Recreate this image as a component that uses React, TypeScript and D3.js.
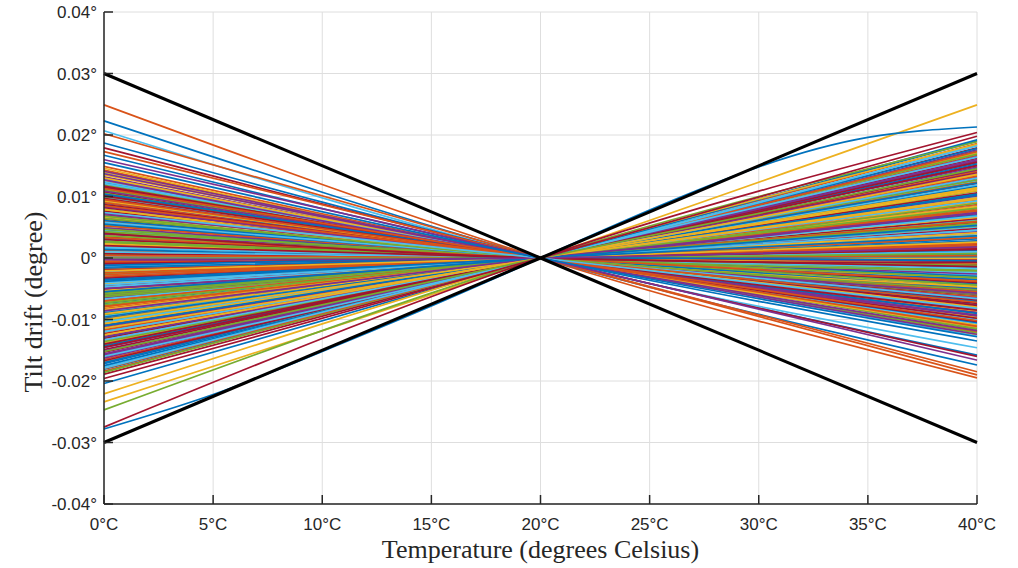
import React from "react"
import * as d3 from "d3"

const W = 1018
const H = 568
const margin = { left: 104, right: 41, top: 12, bottom: 64 }

// MATLAB default colour order
const colorOrder = ["#0072BD", "#D95319", "#EDB120", "#7E2F8E", "#77AC30", "#4DBEEE", "#A2142F"]

const xTicks = [0, 5, 10, 15, 20, 25, 30, 35, 40]
const yTicks = [-0.04, -0.03, -0.02, -0.01, 0, 0.01, 0.02, 0.03, 0.04]
const yTickLabels = ["-0.04°", "-0.03°", "-0.02°", "-0.01°", "0°", "0.01°", "0.02°", "0.03°", "0.04°"]

// tilt drift of each unit (millidegrees) at 0°C and at 40°C, all zero at 20°C
const driftAt0 = [
  3.2, -7.8, 11.4, -14.6, 0.6, -2.9, 8.3, -17.2, 5.7, -10.1,
  13.2, -5.4, 1.8, -12.3, 9.6, -0.8, 6.9, -15.9, 4.1, -8.7,
  12.0, -3.6, -18.4, 7.5, -6.2, 2.5, -11.5, 10.7, -1.7, 14.3,
  -13.8, 0.1, -9.3, 5.0, -4.5, 8.9, -16.5, 3.7, -7.1, 11.9,
  -2.2, 6.3, -12.9, 1.2, -10.6, 9.2, -5.9, 13.8, -18.9, 4.6,
  -8.2, -0.3, 7.0, -14.1, 2.9, -3.1, 10.2, -6.8, 12.6, -11.1,
  5.3, -1.3, -15.3, 8.0, -9.8, 0.9, -4.9, 11.0, -17.7, 3.4,
  -7.4, 14.9, -12.6, 6.6, -2.5, 9.9, -5.1, 1.5, -13.4, 7.8,
  -0.5, -10.3, 4.4, -16.1, 12.3, -8.5, 2.1, -6.5, 10.5, -3.9,
  -14.9, 5.9, -9.0, 13.5, -1.0, 8.6, -11.8, 3.0, -18.1, 6.0,
  -4.2, 11.6, -7.6, 0.3, -13.1, 9.4, -2.7, -16.8, 4.9, -5.6,
  12.8, -10.9, 1.4, 7.3, -8.0, -15.6, 10.0, -0.1, -3.3, 5.5,
  -12.1, 14.0, -6.0, 2.7, -9.5, 8.2, -17.0, -1.9, 6.7, -11.3,
  11.2, -4.7, 0.7, -14.3, 9.0, -7.2, 3.9, -18.6, 12.4, -2.0,
  -9.9, 5.2, -5.3, 10.9, -13.6, 1.0, 7.6, -8.9, -0.6, 13.0,
  -16.3, 4.3, -6.7, 8.7, -3.5, -11.7, 2.3, -15.1, 6.4, -10.4,
  9.7, -1.5, -7.9, 14.6, -12.8, 3.6, -4.0, 11.5, -17.5, 0.4,
  -9.1, 7.2, -5.8, 12.1, -14.5, 5.6, -2.4, -10.7, 8.4, -6.3,
  1.7, -16.7, 10.4, -3.0, -8.4, 13.7, 4.7, -12.0, -0.9, 6.1,
  -7.0, 9.3, -15.8, 2.6, -4.4, 11.7, -11.0, -18.0, 7.9, -5.0,
  0.0, -13.3, 10.1, -9.6, 3.3, -2.1, 14.1, -7.3, 5.8, -14.0,
  -1.2, 8.5, -10.0, 12.7, -6.1, -16.0, 2.0, -3.8, 9.5, -12.5,
  -8.6, 6.8, -17.9, 4.0, -5.5, 11.3, -11.4, -0.2, -15.2, 7.4,
]
const driftAt40 = [
  -1.5, 9.1, -9.2, 15.8, 0.9, 4.6, -6.1, 17.4, -4.8, 10.3,
  -11.0, 6.9, -2.2, 12.9, -8.4, 2.7, -3.9, 14.2, -5.6, 7.4,
  -9.9, 3.1, 18.6, -7.3, 8.5, 0.3, 11.8, -7.9, 1.2, -12.1,
  13.5, -0.6, 10.9, -2.8, 5.8, -10.4, 16.7, -3.3, 6.2, -11.6,
  3.9, -6.7, 14.6, -1.0, 9.0, -5.3, 7.7, -10.8, 17.9, -4.2,
  8.0, 0.0, -8.8, 12.4, -2.5, 2.2, -9.5, 9.7, -8.6, 13.1,
  -6.0, 3.5, 15.1, -4.5, 8.7, 1.6, 4.3, -10.1, 18.2, -0.9,
  7.0, -11.9, 11.2, -5.1, 1.9, -7.0, 6.4, -3.0, 14.0, -9.7,
  -0.3, 11.5, -1.9, 16.2, -11.3, 9.4, -0.1, 5.5, -8.1, 5.0,
  13.8, -7.6, 7.8, -12.5, 0.5, -6.4, 12.6, -4.0, 19.0, -3.6,
  3.7, -8.9, 10.0, -1.3, 12.1, -9.0, 2.4, 17.1, -5.9, 5.2,
  -10.6, 10.6, 0.6, -5.5, 6.6, 16.5, -11.4, 1.0, 4.8, -3.5,
  13.3, -9.6, 7.2, -2.0, 9.9, -7.7, 15.5, 2.0, -4.6, 10.1,
  -12.2, 6.1, -0.4, 15.3, -6.3, 8.2, -2.6, 16.9, -10.0, 1.4,
  11.7, -5.0, 4.1, -9.3, 12.7, -1.7, -6.9, 10.4, 2.3, -11.2,
  14.8, -3.2, 6.8, -8.3, 2.8, 12.3, -0.8, 17.6, -5.8, 9.3,
  -7.4, 0.2, 7.6, -10.9, 13.7, -4.4, 5.4, -9.8, 17.8, 0.4,
  8.4, -6.5, 6.0, -12.7, 14.4, -4.9, 3.3, 11.0, -5.7, 8.9,
  -2.3, 15.6, -10.5, 1.7, 9.6, -11.8, -2.1, 11.9, 1.5, -7.1,
  5.9, -8.0, 16.0, -1.2, 4.5, -10.3, 12.2, 17.3, -4.7, 7.4,
  0.7, 13.0, -8.5, 10.2, -3.8, 2.6, -12.4, 8.1, -6.6, 15.0,
  -0.5, -7.2, 9.8, -9.4, 5.6, 18.4, -1.4, 3.6, -10.2, 11.4,
  7.3, -5.2, 16.4, -0.7, 5.3, -11.1, 13.6, 1.8, 14.5, -8.2,
]

// the units that stand out from the band
const outlierAt0 = [24.9, 22.3, 20.7, 20.2, 18.7, 17.9, 17.3, 16.7, 16.0, 15.5, -20.4, -22.1, -23.4, -24.7, -27.5, -19.6]
const outlierAt40 = [-19.5, -17.4, -14.6, -19.0, -15.8, -16.0, -18.5, -13.5, -16.6, -12.8, 19.2, 18.5, 24.9, 18.9, 20.4, 19.8]
const outlierColor = [1, 0, 5, 1, 0, 6, 1, 0, 3, 0, 0, 2, 2, 4, 6, 6]

// one strongly bent unit
const bentTemps = [0, 5, 10, 15, 20, 25, 30, 35, 40]
const bentDrift = [-27.8, -22.2, -15.2, -7.8, 0, 7.8, 14.8, 19.6, 21.3]

// spec limits (black)
const limitAt0 = [30, -30]
const limitAt40 = [-30, 30]

const x = d3.scaleLinear().domain([0, 40]).range([margin.left, W - margin.right])
const y = d3.scaleLinear().domain([-0.04, 0.04]).range([H - margin.bottom, margin.top])

const line = d3
  .line<[number, number]>()
  .x(d => x(d[0]))
  .y(d => y(d[1] / 1000))
  .curve(d3.curveNatural)

const threePoint = (a: number, b: number): [number, number][] => [
  [0, a],
  [20, 0],
  [40, b],
]

const tickFont = "'Liberation Sans', Arial, Helvetica, sans-serif"
const titleFont = "'Liberation Serif', 'Times New Roman', serif"
const ink = "#262626"

export default function App() {
  const x0 = x.range()[0]
  const x1 = x.range()[1]
  const yb = y.range()[0]
  const yt = y.range()[1]

  return (
    <svg
      width={W}
      height={H}
      style={{ position: "absolute", left: 0, top: 0, background: "#fff" }}
    >
      {/* grid */}
      <g stroke="#dedede" strokeWidth={1}>
        {xTicks.map(t => (
          <line key={"gx" + t} x1={x(t)} x2={x(t)} y1={yt} y2={yb} />
        ))}
        {yTicks.map(t => (
          <line key={"gy" + t} x1={x0} x2={x1} y1={y(t)} y2={y(t)} />
        ))}
      </g>

      {/* the units */}
      <g fill="none" strokeWidth={1.7}>
        {driftAt0.map((a, i) => (
          <path key={"d" + i} d={line(threePoint(a, driftAt40[i])) || ""} stroke={colorOrder[i % 7]} />
        ))}
        {outlierAt0.map((a, i) => (
          <path key={"o" + i} d={line(threePoint(a, outlierAt40[i])) || ""} stroke={colorOrder[outlierColor[i]]} />
        ))}
        <path d={line(bentTemps.map((t, i) => [t, bentDrift[i]] as [number, number])) || ""} stroke={colorOrder[0]} />
      </g>

      {/* limits */}
      <g fill="none" stroke="#000" strokeWidth={3}>
        {limitAt0.map((a, i) => (
          <path key={"l" + i} d={line(threePoint(a, limitAt40[i])) || ""} />
        ))}
      </g>

      {/* axes */}
      <g stroke={ink} strokeWidth={1.5}>
        <line x1={x0} x2={x0} y1={yt} y2={yb} />
        <line x1={x0} x2={x1} y1={yb} y2={yb} />
        {yTicks.map(t => (
          <line key={"ty" + t} x1={x0} x2={x0 + 9} y1={y(t)} y2={y(t)} />
        ))}
        {xTicks.map(t => (
          <line key={"tx" + t} x1={x(t)} x2={x(t)} y1={yb} y2={yb - 9} />
        ))}
      </g>

      <g fill={ink} fontFamily={tickFont} fontSize={17}>
        {yTicks.map((t, i) => (
          <text key={"ly" + t} x={x0 - 7} y={y(t) + 6} textAnchor="end">
            {yTickLabels[i]}
          </text>
        ))}
        {xTicks.map(t => (
          <text key={"lx" + t} x={x(t)} y={yb + 26} textAnchor="middle">
            {t + "°C"}
          </text>
        ))}
      </g>

      <g fill={ink} fontFamily={titleFont} fontSize={26}>
        <text x={(x0 + x1) / 2} y={558} textAnchor="middle">
          Temperature (degrees Celsius)
        </text>
        <text transform="translate(42,302) rotate(-90)" textAnchor="middle">
          Tilt drift (degree)
        </text>
      </g>
    </svg>
  )
}
